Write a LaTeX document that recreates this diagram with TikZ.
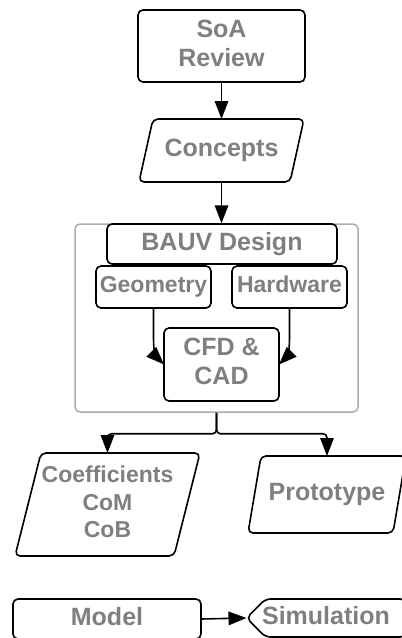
\documentclass[tikz,border=0pt]{standalone}
\usepackage{fontspec}
\setmainfont{Liberation Sans}
\usetikzlibrary{arrows.meta,calc}
\definecolor{txtgray}{RGB}{127,127,127}
\definecolor{framegray}{RGB}{172,172,172}
\newcommand\liftstrut{\rule[-0.24em]{0pt}{0.7em}}
\tikzset{
  base/.style={inner sep=0pt, outer sep=0pt, align=center, text=txtgray,
    font=\fontsize{25pt}{29pt}\selectfont\bfseries,
    execute at begin node=\liftstrut, execute at end node=\liftstrut},
  smalltxt/.style={font=\fontsize{23pt}{27.5pt}\selectfont\bfseries},
  boxnode/.style={base, draw=black, line width=1.6pt, rounded corners=5pt},
  plainnode/.style={base},
  outline/.style={draw=black, line width=1.6pt, rounded corners=5pt},
  conn/.style={draw=black, line width=1.6pt, -{Triangle[length=18pt,width=13.5pt]}},
}
\newcommand\paraoutline[2]{%
  \draw[outline] (#1.north) -- (#1.north east) -- ($(#1.south east)-(#2,0)$)
    -- (#1.south west) -- ($(#1.north west)+(#2,0)$) -- cycle;}
\begin{document}
\begin{tikzpicture}[x=1pt,y=-1pt]
\useasboundingbox (0,0) rectangle (402,638);

% container
\node[draw=framegray, line width=1.5pt, rounded corners=5pt, inner sep=0pt,
      minimum width=283pt, minimum height=188pt] (frame) at (216.5,318) {};

\node[boxnode, minimum width=167pt, minimum height=72pt] (soa) at (221.5,46) {SoA\\Review};

\node[plainnode, minimum width=165pt, minimum height=63pt] (concepts) at (221.5,150.5) {Concepts};
\paraoutline{concepts}{14}

\node[boxnode, fill=white, minimum width=230pt, minimum height=40pt] (bauv) at (222,244) {BAUV Design};
\node[boxnode, smalltxt, minimum width=115pt, minimum height=42pt] (geo) at (153.5,287) {Geometry};
\node[boxnode, smalltxt, minimum width=115pt, minimum height=42pt] (hw) at (289.5,287) {Hardware};
\node[boxnode, minimum width=115pt, minimum height=73pt] (cfd) at (221.5,364.5) {CFD \&\\CAD};

\node[plainnode, smalltxt, minimum width=185pt, minimum height=103pt] (coef) at (107.5,504.5) {Coefficients\\CoM\\CoB};
\paraoutline{coef}{26}

\node[plainnode, minimum width=158pt, minimum height=77pt] (proto) at (327,494.5) {Prototype};
\paraoutline{proto}{13}

\node[boxnode, minimum width=188pt, minimum height=40pt] (model) at (107,619) {Model};

\node[plainnode, minimum width=159pt, minimum height=38pt] (sim) at (326,618) {Simulation};
\draw[outline] (sim.north) -- (sim.north east) -- (sim.south east)
  -- ($(sim.south west)+(19,0)$) -- (sim.west) -- ($(sim.north west)+(19,0)$) -- cycle;

% connectors
\draw[conn] (soa.south) -- (concepts.north);
\draw[conn] (concepts.south) -- (concepts.south |- frame.north);
\draw[conn] (geo.south) -- ++(0,30) .. controls +(0,14) and +(-8,-8) .. (cfd.west);
\draw[conn] (hw.south) -- ++(0,30) .. controls +(0,14) and +(8,-8) .. (cfd.east);
\draw[conn, rounded corners=4pt] (frame.south) -- ++(0,21) -| (coef.north);
\draw[conn, rounded corners=4pt] (frame.south) -- ++(0,21) -| (proto.north);
\draw[conn] (model.east) -- (sim.west);
\end{tikzpicture}
\end{document}
